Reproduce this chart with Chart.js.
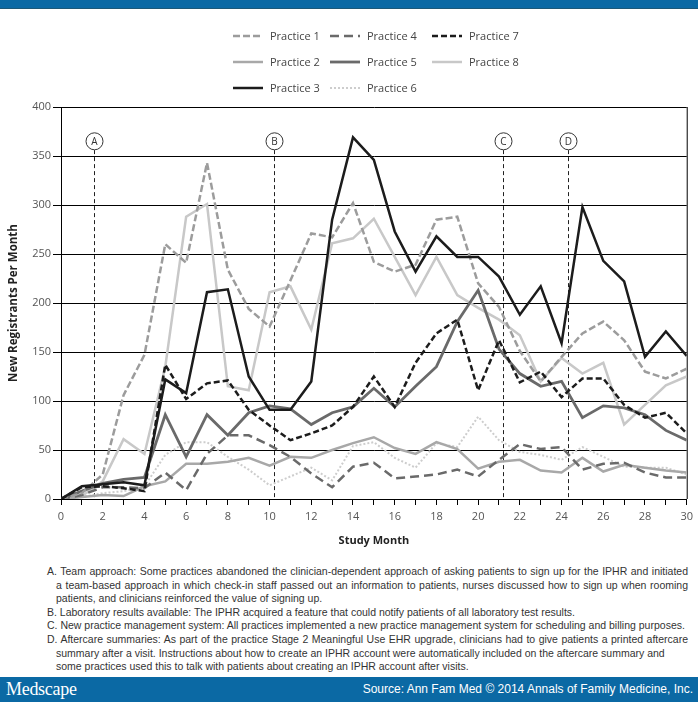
<!DOCTYPE html>
<html>
<head>
<meta charset="utf-8">
<script src="https://cdn.jsdelivr.net/npm/chart.js@4.4.1/dist/chart.umd.min.js"></script>
<style>
  html,body{margin:0;padding:0;background:#fff;}
  body{width:698px;height:702px;position:relative;overflow:hidden;}
  #topbar{position:absolute;left:0;top:0;width:698px;height:8px;background:#0b69a4;border-bottom:1px solid #1d5877;}
  #wrap{position:absolute;left:0;top:0;width:698px;height:555px;}
  #notes{position:absolute;left:47px;top:565px;width:641px;font-family:"Liberation Sans",Arial,sans-serif;font-size:10.5px;line-height:13.6px;color:#333;}
  #notes div{white-space:nowrap;}
  #notes .c{padding-left:9px;}
  #notes .j{text-align:justify;text-align-last:justify;white-space:normal;}
  #footbar{position:absolute;left:0;top:677px;width:698px;height:25px;background:#0b69a4;color:#fff;}
  #logo{position:absolute;left:6px;top:2px;font-family:"Liberation Serif","DejaVu Serif",serif;font-size:18px;letter-spacing:-0.3px;}
  #src{position:absolute;right:5px;top:5px;font-family:"Liberation Sans",Arial,sans-serif;font-size:12px;}
</style>
</head>
<body>
<div id="topbar"></div>
<div id="wrap"><canvas id="chart" width="698" height="555"></canvas></div>
<div id="notes">
  <div class="j">A. Team approach: Some practices abandoned the clinician-dependent approach of asking patients to sign up for the IPHR and initiated</div>
  <div class="c j">a team-based approach in which check-in staff passed out an information to patients, nurses discussed how to sign up when rooming</div>
  <div class="c">patients, and clinicians reinforced the value of signing up.</div>
  <div>B. Laboratory results available: The IPHR acquired a feature that could notify patients of all laboratory test results.</div>
  <div>C. New practice management system: All practices implemented a new practice management system for scheduling and billing purposes.</div>
  <div class="j">D. Aftercare summaries: As part of the practice Stage 2 Meaningful Use EHR upgrade, clinicians had to give patients a printed aftercare</div>
  <div class="c">summary after a visit. Instructions about how to create an IPHR account were automatically included on the aftercare summary and</div>
  <div class="c">some practices used this to talk with patients about creating an IPHR account after visits.</div>
</div>
<div id="footbar"><span id="logo">Medscape</span><span id="src">Source: Ann Fam Med © 2014 Annals of Family Medicine, Inc.</span></div>

<script>
/* ---------- DATA ---------- */
const months = [0,1,2,3,4,5,6,7,8,9,10,11,12,13,14,15,16,17,18,19,20,21,22,23,24,25,26,27,28,29,30];
const practice1 = [0,6,25,106,147,260,241,343,234,194,176,223,271,267,302,242,232,239,285,288,220,196,151,120,145,169,181,162,130,123,133];
const practice2 = [0,2,4,3,13,18,36,36,38,42,34,43,42,50,57,63,52,46,58,51,31,38,40,29,27,42,28,35,32,29,27];
const practice3 = [0,13,15,17,14,122,108,211,214,125,91,91,120,285,369,346,273,232,268,247,247,227,188,217,159,298,243,222,145,171,146];
const practice4 = [0,4,12,12,11,27,9,46,65,65,55,43,26,12,33,37,21,23,25,30,23,40,56,51,53,30,36,37,27,22,22];
const practice5 = [0,8,16,20,22,86,43,86,65,88,95,92,76,88,94,113,94,115,135,181,213,153,128,115,120,83,95,93,86,70,60];
const practice6 = [0,2,6,8,13,45,58,58,43,30,14,23,32,19,54,58,42,32,57,53,84,60,48,45,40,53,43,33,32,32,25];
const practice7 = [0,12,13,11,8,137,102,118,121,91,75,60,67,75,94,125,94,139,169,183,111,162,119,130,104,123,123,96,83,88,67];
const practice8 = [0,3,18,61,46,135,288,301,115,111,211,217,173,261,266,286,247,208,247,208,195,183,167,120,144,128,139,76,96,116,125];

const seriesNames = ['Practice 1','Practice 2','Practice 3','Practice 4','Practice 5','Practice 6','Practice 7','Practice 8'];
const seriesValues = [practice1,practice2,practice3,practice4,practice5,practice6,practice7,practice8];

const yTicks = {min:0,max:400,step:50};
const eventMonths = [1.6,10.2,21.2,24.3];
const eventLabels = ['A','B','C','D'];

/* ---------- STYLES ---------- */
const styles = [
  {color:'#9c9c9c',width:2.5,dash:[7,3]},
  {color:'#a8a8a8',width:2.5,dash:[]},
  {color:'#1c1c1c',width:2.5,dash:[]},
  {color:'#6a6a6a',width:2.5,dash:[9,5]},
  {color:'#6a6a6a',width:2.8,dash:[]},
  {color:'#cdcdcd',width:2,dash:[2,2]},
  {color:'#1c1c1c',width:2.5,dash:[6,3]},
  {color:'#c8c8c8',width:2.5,dash:[]}
];
const drawOrder = [3,6,1,5,4,7,2,8];

const FONT = '"Open Sans", "Liberation Sans", sans-serif';
Chart.defaults.font.family = FONT;
Chart.defaults.color = '#555';

const datasets = seriesNames.map((name,i)=>({
  label:name,
  data:months.map((m,j)=>({x:m,y:seriesValues[i][j]})),
  borderColor:styles[i].color,
  borderWidth:styles[i].width,
  borderDash:styles[i].dash,
  pointRadius:0,
  tension:0,
  fill:false,
  order:drawOrder[i]
}));

/* ---------- PLUGINS ---------- */
// legend: 3 columns, filled column by column
const legendCols = [[0,1,2],[3,4,5],[6,7]];
const legendColX = [233,330,432];
const legendRowY = [36,62,88];
const legendPlugin = {
  id:'gridLegend',
  afterDraw(chart){
    const ctx = chart.ctx;
    ctx.save();
    ctx.font = '11px ' + FONT;
    ctx.textBaseline = 'middle';
    legendCols.forEach((col,ci)=>{
      col.forEach((di,ri)=>{
        const ds = chart.data.datasets[di];
        const x = legendColX[ci], y = legendRowY[ri];
        ctx.strokeStyle = ds.borderColor;
        ctx.lineWidth = ds.borderWidth;
        ctx.setLineDash(ds.borderDash);
        ctx.beginPath(); ctx.moveTo(x,y); ctx.lineTo(x+30,y); ctx.stroke();
        ctx.setLineDash([]);
        ctx.fillStyle = '#444';
        ctx.fillText(ds.label, x+37, y+0.5);
      });
    });
    ctx.restore();
  }
};

// event markers A-D + right frame line
const eventPlugin = {
  id:'events',
  beforeDatasetsDraw(chart){
    const {ctx, chartArea:a, scales:{x,y}} = chart;
    ctx.save();
    ctx.strokeStyle = '#000'; ctx.lineWidth = 1;
    ctx.beginPath(); ctx.moveTo(a.right+0.5,a.top); ctx.lineTo(a.right+0.5,a.bottom); ctx.stroke();
    eventMonths.forEach((m,i)=>{
      const px = Math.round(x.getPixelForValue(m))+0.5;
      const cy = y.getPixelForValue(365);
      ctx.setLineDash([4,3]);
      ctx.strokeStyle = '#222';
      ctx.beginPath(); ctx.moveTo(px,y.getPixelForValue(356)); ctx.lineTo(px,a.bottom); ctx.stroke();
      ctx.setLineDash([]);
      ctx.beginPath(); ctx.arc(px,cy,8.5,0,Math.PI*2);
      ctx.fillStyle='#fff'; ctx.fill(); ctx.strokeStyle='#333'; ctx.stroke();
      ctx.fillStyle='#333'; ctx.font='10px '+FONT; ctx.textAlign='center'; ctx.textBaseline='middle';
      ctx.fillText(eventLabels[i],px,cy+0.5);
    });
    ctx.restore();
  }
};

/* ---------- CHART ---------- */
new Chart(document.getElementById('chart').getContext('2d'),{
  type:'line',
  data:{datasets},
  options:{
    responsive:false,
    animation:false,
    layout:{padding:{top:107,right:10,left:0,bottom:0}},
    plugins:{legend:{display:false},tooltip:{enabled:false}},
    scales:{
      x:{
        type:'linear',min:months[0],max:months[months.length-1],
        afterFit(s){ s.height = 56; },
        ticks:{stepSize:1,autoSkip:false,maxRotation:0,padding:5,color:'#555',font:{size:11},
          callback:v=> v%2===0 ? String(v) : ''},
        grid:{drawOnChartArea:false,drawTicks:true,tickLength:6,color:'#000'},
        border:{color:'#000',width:1},
        title:{display:true,text:'Study Month',color:'#222',font:{size:11,weight:'bold'},padding:{top:0,bottom:8}}
      },
      y:{
        min:yTicks.min,max:yTicks.max,
        afterFit(s){ s.width = 61; },
        ticks:{stepSize:yTicks.step,padding:2,color:'#555',font:{size:11}},
        grid:{color:'#000',lineWidth:1,tickLength:8},
        border:{color:'#000',width:1},
        title:{display:true,text:'New Registrants Per Month',color:'#222',font:{size:11.5,weight:'bold'},padding:{top:7,bottom:4}}
      }
    }
  },
  plugins:[legendPlugin,eventPlugin]
});
</script>
</body>
</html>
